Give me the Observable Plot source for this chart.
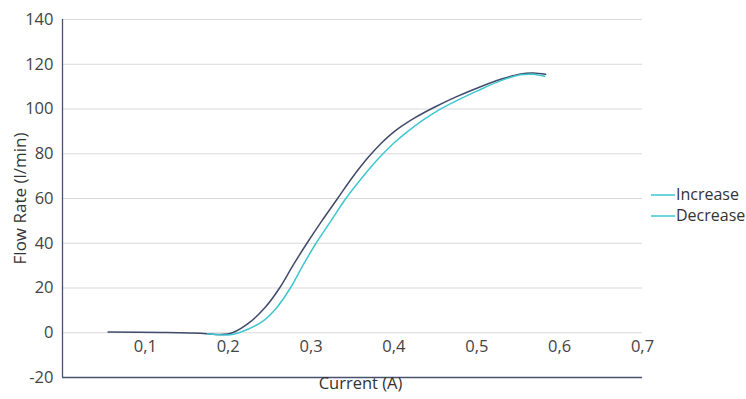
<!DOCTYPE html>
<html>
<head>
<meta charset="utf-8">
<script src="https://cdn.jsdelivr.net/npm/d3@7"></script>
<script src="https://cdn.jsdelivr.net/npm/@observablehq/plot@0.6"></script>
<style>
  html, body { margin: 0; padding: 0; background: #fff; }
  #wrap { position: relative; width: 746px; height: 399px; font-family: "Open Sans", Lato, sans-serif; }
  #legend { position: absolute; left: 651px; top: 184px; font-size: 16px; color: #333; line-height: 21px; }
  #legend div { display: flex; align-items: center; white-space: nowrap; }
  #legend svg { margin-right: 1px; }
</style>
</head>
<body>
<div id="wrap"><div id="legend"></div></div>
<script>
const seriesNames = ["Increase", "Decrease"];
const seriesColors = ["#404a6a", "#3ec6d0"];
const legendColors = ["#3ec6d0", "#3ec6d0"];

const increaseCurrent = [0.055, 0.12, 0.17, 0.19, 0.205, 0.227, 0.245, 0.262, 0.278, 0.295, 0.313, 0.332, 0.35, 0.369, 0.385, 0.40, 0.425, 0.45, 0.475, 0.50, 0.53, 0.553, 0.568, 0.583];
const increaseFlow    = [0.3, 0.1, -0.3, -0.8, 0.0, 5.0, 11.5, 20.0, 30.0, 40.0, 50.0, 60.0, 69.5, 78.4, 84.8, 89.8, 96.0, 101.0, 105.4, 109.3, 113.4, 115.7, 116.1, 115.5];

const decreaseCurrent = [0.175, 0.20, 0.213, 0.241, 0.258, 0.275, 0.29, 0.306, 0.324, 0.342, 0.362, 0.383, 0.40, 0.416, 0.435, 0.454, 0.48, 0.50, 0.53, 0.553, 0.568, 0.582];
const decreaseFlow    = [-0.4, -1.0, 0.0, 5.0, 11.0, 20.0, 30.0, 40.0, 50.0, 60.0, 69.5, 78.5, 84.8, 89.8, 95.0, 99.5, 104.5, 108.0, 112.8, 115.3, 115.5, 114.6];

const xTicks = [0.1, 0.2, 0.3, 0.4, 0.5, 0.6, 0.7];
const xTickLabels = ["0,1", "0,2", "0,3", "0,4", "0,5", "0,6", "0,7"];
const yTicks = [-20, 0, 20, 40, 60, 80, 100, 120, 140];
const yTickLabels = ["-20", "0", "20", "40", "60", "80", "100", "120", "140"];
const xTitle = "Current (A)";
const yTitle = "Flow Rate (l/min)";

const rows = [
  ...increaseCurrent.map((c, i) => ({series: seriesNames[0], current: c, flow: increaseFlow[i]})),
  ...decreaseCurrent.map((c, i) => ({series: seriesNames[1], current: c, flow: decreaseFlow[i]}))
];
const xt = xTicks.map((v, i) => ({v, label: xTickLabels[i]}));
const yt = yTicks.map((v, i) => ({v, label: yTickLabels[i]}));

const chart = Plot.plot({
  width: 746,
  height: 399,
  marginLeft: 62,
  marginRight: 104,
  marginTop: 19,
  marginBottom: 22,
  style: {fontFamily: "'Open Sans', Lato, sans-serif", background: "#fff"},
  x: {domain: [0, 0.7], axis: null},
  y: {domain: [-20, 140], axis: null},
  color: {domain: seriesNames, range: seriesColors},
  marks: [
    Plot.ruleY(yTicks.filter(v => v > -20), {stroke: "#d9d9d9", strokeWidth: 1.2}),
    Plot.ruleY([-20], {stroke: "#4a5270", strokeWidth: 1.3}),
    Plot.ruleX([0], {stroke: "#4a5270", strokeWidth: 1.3}),
    Plot.text(yt, {x: 0, y: "v", text: "label", textAnchor: "end", dx: -9, fontSize: 16.5, fill: "#444"}),
    Plot.text(xt, {x: "v", y: 0, text: "label", dy: 14, fontSize: 16.5, fill: "#444"}),
    Plot.text([xTitle], {frameAnchor: "bottom", textAnchor: "middle", dx: 8, dy: 11, fontSize: 16.5, fill: "#333", letterSpacing: "0.4px"}),
    Plot.text([yTitle], {frameAnchor: "left", textAnchor: "middle", dx: -42, rotate: -90, fontSize: 17, fill: "#333", letterSpacing: "1px"}),
    Plot.line(rows, {x: "current", y: "flow", z: "series", stroke: "series", strokeWidth: 1.5, curve: "catmull-rom"})
  ]
});
document.getElementById("wrap").prepend(chart);

const legend = document.getElementById("legend");
const ns = "http://www.w3.org/2000/svg";
seriesNames.forEach((name, i) => {
  const d = document.createElement("div");
  const sw = document.createElementNS(ns, "svg");
  sw.setAttribute("width", "24");
  sw.setAttribute("height", "10");
  const ln = document.createElementNS(ns, "line");
  ln.setAttribute("x1", "0"); ln.setAttribute("x2", "24");
  ln.setAttribute("y1", "5"); ln.setAttribute("y2", "5");
  ln.setAttribute("stroke", legendColors[i]);
  ln.setAttribute("stroke-width", "1.5");
  sw.appendChild(ln);
  d.appendChild(sw);
  d.appendChild(document.createTextNode(name));
  legend.appendChild(d);
});
</script>
</body>
</html>
